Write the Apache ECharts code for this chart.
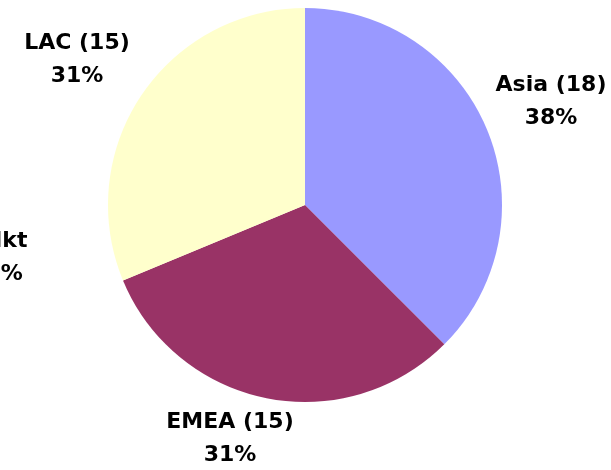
<!DOCTYPE html>
<html>
<head>
<meta charset="utf-8">
<script src="https://cdn.jsdelivr.net/npm/echarts@6/dist/echarts.min.js"></script>
<style>
  html, body { margin: 0; padding: 0; background: #fff; }
  #chart { width: 611px; height: 470px; }
</style>
</head>
<body>
<div id="chart"></div>
<script>
// 各地区数量与标注百分比
const regions = ['Asia', 'EMEA', 'Mkt', 'LAC'];
const counts = [18, 15, 0, 15];
const percents = [38, 31, 6, 31];
const colors = ['#9999FF', '#993366', '#FFFFFF', '#FFFFCC'];

// label anchor points (x, y)
const labelPos = [[551, 102], [230, 439], [4, 258], [77, 60]];

const chart = echarts.init(document.getElementById('chart'));

const option = {
  animation: false,
  series: [
    {
      type: 'pie',
      center: [305, 205],
      radius: 197,
      startAngle: 90,
      clockwise: true,
      avoidLabelOverlap: false,
      data: regions.map((name, i) => ({
        name: name,
        value: counts[i],
        itemStyle: { color: colors[i] }
      })),
      itemStyle: {
        borderWidth: 0
      },
      label: {
        show: true,
        position: 'outside',
        fontFamily: 'DejaVu Sans',
        fontWeight: 'bold',
        fontSize: 22,
        lineHeight: 33,
        color: '#000',
        formatter: function (p) {
          const c = counts[p.dataIndex];
          const head = c ? p.name + ' (' + c + ')' : p.name;
          return head + '\n' + percents[p.dataIndex] + '%';
        }
      },
      labelLine: { show: false },
      emphasis: { disabled: true },
      labelLayout: function (params) {
        const pos = labelPos[params.dataIndex];
        return {
          x: pos[0],
          y: pos[1],
          align: 'center',
          verticalAlign: 'middle'
        };
      }
    }
  ]
};

chart.setOption(option);
</script>
</body>
</html>
